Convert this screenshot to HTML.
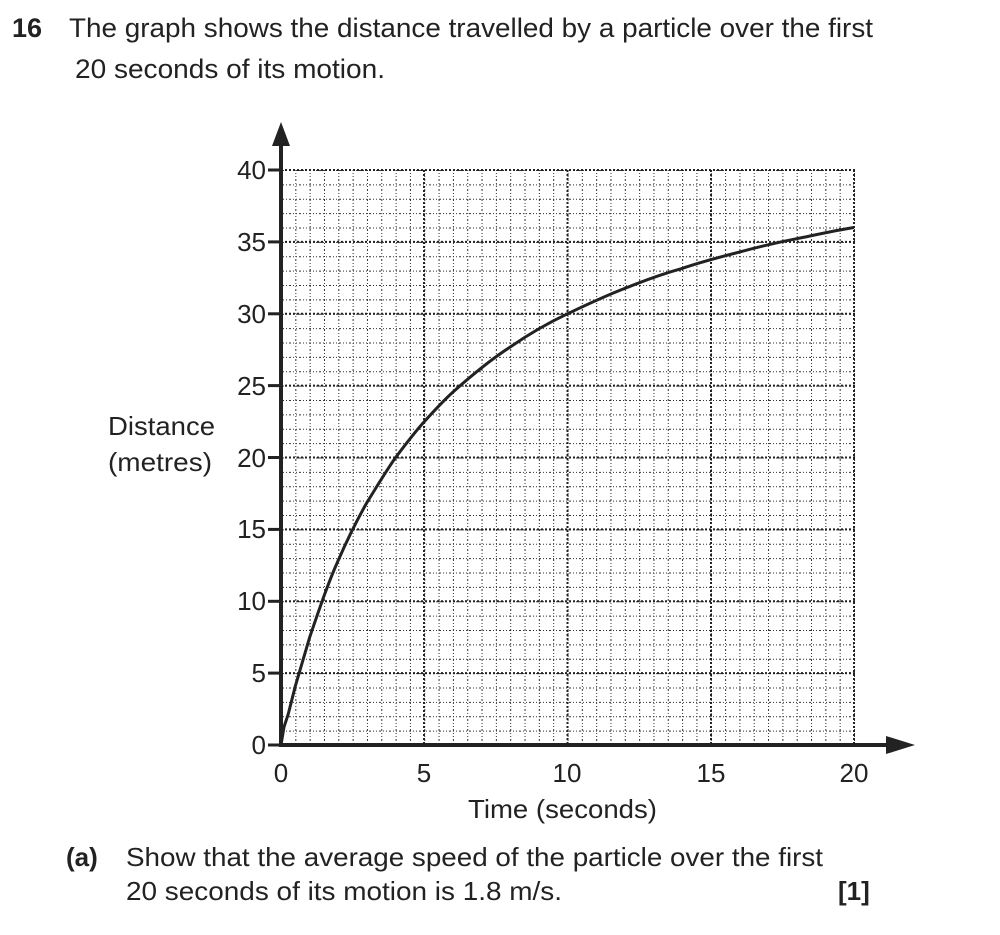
<!DOCTYPE html>
<html><head><meta charset="utf-8"><style>
body{margin:0;background:#fff;}
svg{display:block;font-family:"Liberation Sans",Arial,sans-serif;fill:#222;}
</style></head><body>
<svg width="1000" height="935" viewBox="0 0 1000 935">
<defs>
<pattern id="gx" x="281" y="0" width="14.325" height="10" patternUnits="userSpaceOnUse">
<line x1="0.5" y1="0" x2="0.5" y2="10" stroke="#333" stroke-width="1" stroke-dasharray="1,2"/>
</pattern>
<pattern id="gy" x="0" y="170" width="10" height="14.375" patternUnits="userSpaceOnUse">
<line x1="0" y1="0.5" x2="10" y2="0.5" stroke="#333" stroke-width="1" stroke-dasharray="1,2"/>
</pattern>
</defs>
<text x="12" y="37" font-size="27" font-weight="bold">16</text>
<text x="69" y="37" font-size="27" textLength="804" lengthAdjust="spacingAndGlyphs">The graph shows the distance travelled by a particle over the first</text>
<text x="75" y="78" font-size="27" textLength="310" lengthAdjust="spacingAndGlyphs">20 seconds of its motion.</text>

<rect x="281" y="170" width="574" height="575" fill="url(#gx)"/>
<rect x="281" y="170" width="574" height="575" fill="url(#gy)"/>
<g stroke="#222" stroke-width="2" stroke-dasharray="2,2" fill="none">
<line x1="424" y1="170" x2="424" y2="745"/>
<line x1="567.5" y1="170" x2="567.5" y2="745"/>
<line x1="711" y1="170" x2="711" y2="745"/>
<line x1="854" y1="170" x2="854" y2="745"/>
<line x1="281" y1="170" x2="855" y2="170"/>
<line x1="281" y1="241.9" x2="855" y2="241.9"/>
<line x1="281" y1="313.8" x2="855" y2="313.8"/>
<line x1="281" y1="385.6" x2="855" y2="385.6"/>
<line x1="281" y1="457.5" x2="855" y2="457.5"/>
<line x1="281" y1="529.4" x2="855" y2="529.4"/>
<line x1="281" y1="601.3" x2="855" y2="601.3"/>
<line x1="281" y1="673.1" x2="855" y2="673.1"/>
</g>
<g stroke="#222" stroke-width="4" fill="none">
<line x1="281" y1="140" x2="281" y2="747"/>
<line x1="279" y1="745" x2="890" y2="745"/>
<g stroke-width="3">
<line x1="268" y1="170" x2="281" y2="170"/><line x1="268" y1="241.9" x2="281" y2="241.9"/>
<line x1="268" y1="313.8" x2="281" y2="313.8"/><line x1="268" y1="385.6" x2="281" y2="385.6"/>
<line x1="268" y1="457.5" x2="281" y2="457.5"/><line x1="268" y1="529.4" x2="281" y2="529.4"/>
<line x1="268" y1="601.3" x2="281" y2="601.3"/><line x1="268" y1="673.1" x2="281" y2="673.1"/>
<line x1="268" y1="745" x2="281" y2="745"/>
</g>
</g>
<polygon points="281,122 272,146 290,146" fill="#222"/>
<polygon points="915,745 886,736 886,754" fill="#222"/>
<path d="M281,745 L284,727 L288.2,714.2 L295.3,686.2 L309.7,637.2 C319,610 328,583 338.3,560.2 C348,538 357,520 367,502.4 C376,488 386,471 395.6,457.5 C405,445 414,433 424.3,421.6 C433,412 443,401 452.9,392.1 C472,375 490,360 510.2,347 C529,334 548,323 567.5,313.8 C586,305 605,296 624.8,288.4 C643,281 662,274 682.1,268.4 C701,262 720,257 739.4,252.1 C758,247 777,242.5 796.7,238.7 C815,235 835,230.5 854,227.5" stroke="#222" stroke-width="3" fill="none"/>
<g font-size="26" text-anchor="end">
<text x="266" y="179">40</text><text x="266" y="251">35</text><text x="266" y="323">30</text>
<text x="266" y="395">25</text><text x="266" y="467">20</text><text x="266" y="538">15</text>
<text x="266" y="610">10</text><text x="266" y="682">5</text><text x="266" y="754">0</text>
</g>
<g font-size="26" text-anchor="middle">
<text x="281" y="782">0</text><text x="424" y="782">5</text><text x="567" y="782">10</text>
<text x="711" y="782">15</text><text x="854" y="782">20</text>
</g>
<text x="468" y="818" font-size="26" textLength="189" lengthAdjust="spacingAndGlyphs">Time (seconds)</text>
<text x="108" y="435" font-size="26" textLength="107" lengthAdjust="spacingAndGlyphs">Distance</text>
<text x="108" y="471" font-size="26" textLength="104" lengthAdjust="spacingAndGlyphs">(metres)</text>
<text x="66" y="866" font-size="26" font-weight="bold">(a)</text>
<text x="126" y="866" font-size="26" textLength="697" lengthAdjust="spacingAndGlyphs">Show that the average speed of the particle over the first</text>
<text x="126" y="900" font-size="26" textLength="436" lengthAdjust="spacingAndGlyphs">20 seconds of its motion is 1.8 m/s.</text>
<text x="838" y="900" font-size="26" font-weight="bold">[1]</text>
</svg>
</body></html>
